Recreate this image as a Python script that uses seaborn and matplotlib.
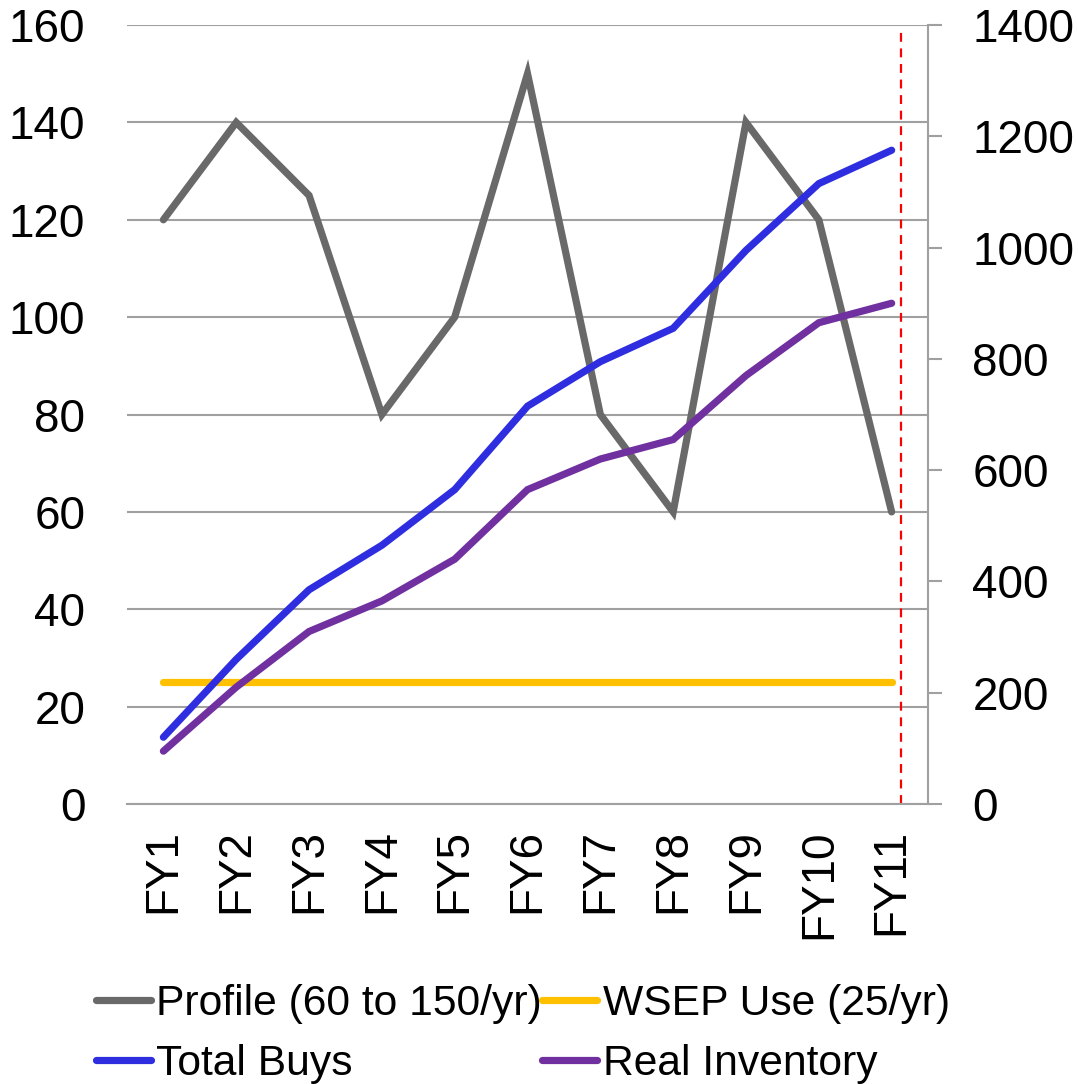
import matplotlib
matplotlib.use("Agg")
import matplotlib.pyplot as plt
import seaborn as sns
import pandas as pd

# Fiscal years and yearly series
years = ["FY1", "FY2", "FY3", "FY4", "FY5", "FY6", "FY7", "FY8", "FY9", "FY10", "FY11"]
profile = [120, 140, 125, 80, 100, 150, 80, 60, 140, 120, 60]
wsep_use = [25, 25, 25, 25, 25, 25, 25, 25, 25, 25, 25]
total_buys = [120, 260, 385, 465, 565, 715, 795, 855, 995, 1115, 1175]
real_inventory = [95, 210, 310, 365, 440, 565, 620, 655, 770, 865, 900]

df = pd.DataFrame({
    "FY": years,
    "Profile": profile,
    "WSEP": wsep_use,
    "TotalBuys": total_buys,
    "RealInventory": real_inventory,
})

sns.set_theme(style="white")
plt.rcParams["font.family"] = ["Liberation Sans", "DejaVu Sans"]

c_profile = "#696969"
c_wsep = "#FFC000"
c_buys = "#2E2EE0"
c_inv = "#7030A0"
grid_c = "#A0A0A0"

fig = plt.figure(figsize=(10.78, 10.84), dpi=100)
ax = fig.add_axes([0.1178, 0.2583, 0.8609 - 0.1178, 0.9769 - 0.2583])
ax2 = ax.twinx()

lw = 5.2
kw = dict(sort=False, linewidth=lw, solid_capstyle="round", solid_joinstyle="miter")
sns.lineplot(data=df, x="FY", y="Profile", ax=ax, color=c_profile,
             label="Profile (60 to 150/yr)", legend=False, **kw)
sns.lineplot(data=df, x="FY", y="WSEP", ax=ax, color=c_wsep,
             label="WSEP Use (25/yr)", legend=False, **kw)
sns.lineplot(data=df, x="FY", y="TotalBuys", ax=ax2, color=c_buys,
             label="Total Buys", legend=False, **kw)
sns.lineplot(data=df, x="FY", y="RealInventory", ax=ax2, color=c_inv,
             label="Real Inventory", legend=False, **kw)

ax.set_xlim(-0.5, len(years) - 0.5)
ax.set_ylim(0, 160)
ax.set_yticks(range(0, 161, 20))
ax2.set_ylim(0, 1400)
ax2.set_yticks(range(0, 1401, 200))

# horizontal gridlines from the left scale
ax.yaxis.grid(True, color=grid_c, linewidth=1.5)
ax.xaxis.grid(False)
ax.set_axisbelow(True)

for a in (ax, ax2):
    a.set_xlabel("")
    a.set_ylabel("")
    for s in a.spines.values():
        s.set_visible(False)
ax2.spines["right"].set_visible(True)
ax2.spines["right"].set_color(grid_c)
ax2.spines["right"].set_linewidth(1.5)
ax.spines["bottom"].set_visible(True)
ax.spines["bottom"].set_color(grid_c)
ax.spines["bottom"].set_linewidth(1.5)

fs = 33
ax.tick_params(axis="y", labelsize=fs, length=0, pad=30, labelcolor="black")
ax.tick_params(axis="x", labelsize=fs, length=0, pad=18, rotation=90, labelcolor="black")
ax2.tick_params(axis="y", labelsize=fs, length=10, width=1.5, color=grid_c,
                direction="out", pad=22, labelcolor="black")

# dashed marker at the end of the horizon
ax.axvline(10.13, ymin=0, ymax=0.991, color="#FF0000", linewidth=1.6,
           linestyle=(0, (4, 3)), zorder=1)

h1, l1 = ax.get_legend_handles_labels()
h2, l2 = ax2.get_legend_handles_labels()
handles = [h1[0], h2[0], h1[1], h2[1]]
labels = [l1[0], l2[0], l1[1], l2[1]]
fig.legend(handles, labels, ncol=2, loc="lower left",
           bbox_to_anchor=(0.089, 0.0), frameon=False, fontsize=30.7,
           handlelength=1.28, handletextpad=0.14, columnspacing=0.0,
           labelspacing=0.47, borderpad=0.0, borderaxespad=0.0,
           labelcolor="black")

fig.savefig("out.png", dpi=100)
